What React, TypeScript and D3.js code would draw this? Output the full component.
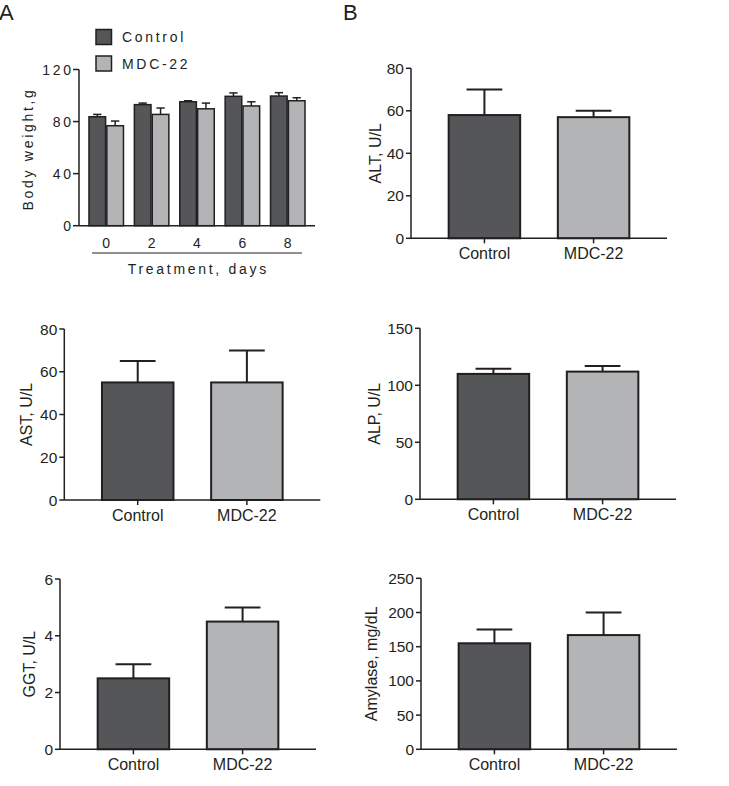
import React from 'react';
import * as d3 from 'd3';

// ---------- Data ----------
const seriesNames = ['Control', 'MDC-22'];
const days = ['0', '2', '4', '6', '8'];
const weightControlMean = [83.7, 93, 95.2, 99.4, 99.6];
const weightControlSem = [1.8, 1.2, 0.8, 2.6, 2.6];
const weightMdcMean = [76.8, 85.5, 89.8, 92, 96];
const weightMdcSem = [3.6, 4.9, 4.4, 3.2, 2.3];
const weightTicks = [0, 40, 80, 120];

const groups = ['Control', 'MDC-22'];
const altMean = [58, 57];
const altSem = [12, 3];
const altTicks = [0, 20, 40, 60, 80];
const astMean = [55, 55];
const astSem = [10, 15];
const astTicks = [0, 20, 40, 60, 80];
const alpMean = [110, 112];
const alpSem = [4.6, 5];
const alpTicks = [0, 50, 100, 150];
const ggtMean = [2.5, 4.5];
const ggtSem = [0.5, 0.5];
const ggtTicks = [0, 2, 4, 6];
const amyMean = [155, 167];
const amySem = [20, 33];
const amyTicks = [0, 50, 100, 150, 200, 250];

// ---------- Styles ----------
const INK = '#231f20';
const DARK = '#545658';
const LIGHT = '#b3b4b6';
const FONT = 'Liberation Sans, Arial, Helvetica, sans-serif';

type PanelProps = {
  ax: number; top: number; bottom: number; len: number;
  mean: number[]; sem: number[]; ticks: number[]; label: string; labelOff: number;
};

function BioPanel({ ax, top, bottom, len, mean, sem, ticks, label, labelOff }: PanelProps) {
  const y = d3.scaleLinear().domain([0, ticks[ticks.length - 1]]).range([bottom, top]);
  const x = d3.scaleBand<string>().domain(groups).range([ax, ax + len]).padding(0.345);
  const bw = x.bandwidth();
  return (
    <g>
      {groups.map((g, i) => {
        const x0 = x(g)!;
        const cx = x0 + bw / 2;
        const yt = y(mean[i]);
        const ye = y(mean[i] + sem[i]);
        return (
          <g key={g}>
            <line x1={cx} x2={cx} y1={yt} y2={ye} stroke={INK} strokeWidth={2} />
            <line x1={cx - bw / 4} x2={cx + bw / 4} y1={ye} y2={ye} stroke={INK} strokeWidth={2} />
            <rect x={x0} y={yt} width={bw} height={bottom - yt} fill={i === 0 ? DARK : LIGHT} stroke={INK} strokeWidth={2} />
            <line x1={cx} x2={cx} y1={bottom} y2={bottom + 5} stroke={INK} strokeWidth={1.5} />
            <text x={cx} y={bottom + 21} textAnchor="middle" fontSize={16} fill={INK}>{g}</text>
          </g>
        );
      })}
      <line x1={ax} x2={ax} y1={top} y2={bottom} stroke={INK} strokeWidth={1.5} />
      <line x1={ax} x2={ax + len} y1={bottom} y2={bottom} stroke={INK} strokeWidth={1.5} />
      {ticks.map((t) => (
        <g key={t}>
          <line x1={ax - 5} x2={ax} y1={y(t)} y2={y(t)} stroke={INK} strokeWidth={1.5} />
          <text x={ax - 7} y={y(t)} dy="0.36em" textAnchor="end" fontSize={15.5} fill={INK}>{t}</text>
        </g>
      ))}
      <text transform={`translate(${ax - labelOff},${(top + bottom) / 2}) rotate(-90)`} textAnchor="middle" fontSize={16} fill={INK}>{label}</text>
    </g>
  );
}

function WeightPanel() {
  const ax = 79, top = 69.5, bottom = 225.7, right = 315;
  const ls = 2.7;
  const fs = 14;
  const y = d3.scaleLinear().domain([0, 120]).range([bottom, top]);
  const x0 = d3.scaleBand<string>().domain(days).range([ax, right]).paddingInner(0.24).paddingOuter(0.22);
  const x1 = d3.scaleBand<string>().domain(seriesNames).range([0, x0.bandwidth()]).paddingInner(0.07);
  const bw = x1.bandwidth();
  const means = [weightControlMean, weightMdcMean];
  const sems = [weightControlSem, weightMdcSem];
  return (
    <g>
      {days.map((d, di) => (
        <g key={d}>
          {seriesNames.map((s, si) => {
            const bx = x0(d)! + x1(s)!;
            const cx = bx + bw / 2;
            const yt = y(means[si][di]);
            const ye = y(means[si][di] + sems[si][di]);
            return (
              <g key={s}>
                <line x1={cx} x2={cx} y1={yt} y2={ye} stroke={INK} strokeWidth={1.5} />
                <line x1={cx - bw / 4} x2={cx + bw / 4} y1={ye} y2={ye} stroke={INK} strokeWidth={1.5} />
                <rect x={bx} y={yt} width={bw} height={bottom - yt} fill={si === 0 ? DARK : LIGHT} stroke={INK} strokeWidth={1.5} />
              </g>
            );
          })}
          <text x={x0(d)! + x0.bandwidth() / 2 + ls / 2} y={248} textAnchor="middle" fontSize={fs} letterSpacing={ls} fill={INK}>{d}</text>
        </g>
      ))}
      <line x1={ax} x2={ax} y1={top} y2={bottom} stroke={INK} strokeWidth={1.5} />
      <line x1={ax} x2={right} y1={bottom} y2={bottom} stroke={INK} strokeWidth={1.5} />
      {weightTicks.map((t) => (
        <g key={t}>
          <line x1={ax - 6} x2={ax} y1={y(t)} y2={y(t)} stroke={INK} strokeWidth={1.5} />
          <text x={ax - 8 + ls} y={y(t)} dy="0.36em" textAnchor="end" fontSize={fs} letterSpacing={ls} fill={INK}>{t}</text>
        </g>
      ))}
      <text transform={`translate(33,${(top + bottom) / 2 + ls / 2}) rotate(-90)`} textAnchor="middle" fontSize={fs} letterSpacing={ls} fill={INK}>Body weight,g</text>
      <line x1={92} x2={302} y1={253} y2={253} stroke={INK} strokeWidth={1} />
      <text x={197 + ls / 2} y={274} textAnchor="middle" fontSize={fs} letterSpacing={ls} fill={INK}>Treatment, days</text>
      {seriesNames.map((s, i) => (
        <g key={s}>
          <rect x={96} y={29.5 + i * 26.5} width={15.5} height={15} fill={i === 0 ? DARK : LIGHT} stroke={INK} strokeWidth={1.5} />
          <text x={122} y={37 + i * 26.5} dy="0.36em" fontSize={fs} letterSpacing={ls} fill={INK}>{s}</text>
        </g>
      ))}
    </g>
  );
}

export default function App() {
  return (
    <svg width={729} height={786} style={{ position: 'absolute', left: 0, top: 0, background: '#fff' }} fontFamily={FONT}>
      <rect width={729} height={786} fill="#fff" />
      <text x={-1} y={20} fontSize={22} fill={INK}>A</text>
      <text x={343} y={20} fontSize={22} fill={INK}>B</text>
      <WeightPanel />
      <BioPanel ax={411} top={68.3} bottom={238.3} len={256} mean={altMean} sem={altSem} ticks={altTicks} label="ALT, U/L" labelOff={30} />
      <BioPanel ax={64.3} top={329} bottom={500} len={256} mean={astMean} sem={astSem} ticks={astTicks} label="AST, U/L" labelOff={32} />
      <BioPanel ax={420} top={328.3} bottom={499.3} len={256} mean={alpMean} sem={alpSem} ticks={alpTicks} label="ALP, U/L" labelOff={40} />
      <BioPanel ax={60} top={579} bottom={749.3} len={256} mean={ggtMean} sem={ggtSem} ticks={ggtTicks} label="GGT, U/L" labelOff={25} />
      <BioPanel ax={421} top={578.3} bottom={749.3} len={256} mean={amyMean} sem={amySem} ticks={amyTicks} label="Amylase, mg/dL" labelOff={44} />
    </svg>
  );
}
